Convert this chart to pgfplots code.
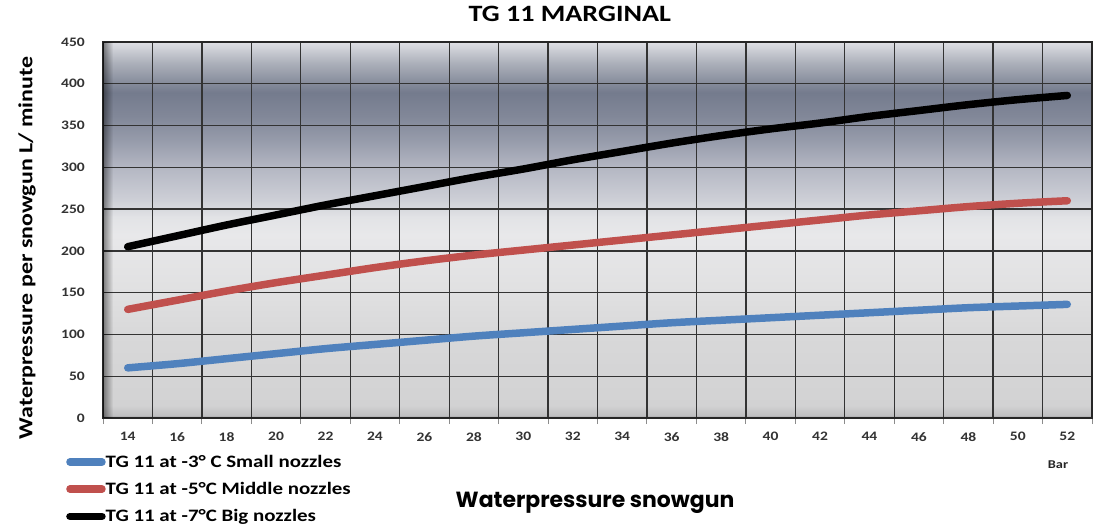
\documentclass[border=0pt]{standalone}
\usepackage{pgfplots}
\pgfplotsset{compat=1.18}
\usepackage{fontspec}
\setmainfont{Carlito}[FakeStretch=1.2]
\newfontfamily\xlabfont{Poppins}
\usetikzlibrary{fadings}
\definecolor{sblue}{RGB}{79,129,189}
\definecolor{sred}{RGB}{192,80,77}
\definecolor{g00}{RGB}{160,160,162}
\definecolor{g01}{RGB}{192,192,194}
\definecolor{g02}{RGB}{210,210,211}
\definecolor{g03}{RGB}{216,216,217}
\definecolor{g04}{RGB}{224,224,225}
\definecolor{g05}{RGB}{232,232,234}
\definecolor{g06}{RGB}{226,227,230}
\definecolor{g07}{RGB}{206,208,215}
\definecolor{g08}{RGB}{180,183,195}
\definecolor{g09}{RGB}{152,157,172}
\definecolor{g10}{RGB}{130,136,153}
\definecolor{g11}{RGB}{116,123,141}
\definecolor{g12}{RGB}{172,176,186}
\definecolor{g13}{RGB}{222,223,228}
\pgfdeclareverticalshading{chartbg}{100bp}{%
color(0bp)=(g00);
color(25bp)=(g00);
color(25.4bp)=(g01);
color(26.7bp)=(g02);
color(36.1bp)=(g03);
color(41.7bp)=(g04);
color(49.4bp)=(g05);
color(51.7bp)=(g06);
color(53.9bp)=(g07);
color(58.3bp)=(g08);
color(61.7bp)=(g09);
color(65bp)=(g10);
color(68.3bp)=(g11);
color(72.2bp)=(g12);
color(75bp)=(g13);
color(100bp)=(g13)}
\tikzfading[name=fadeR, left color=transparent!0, right color=transparent!100]
\pgfplotstableread{
x p blue red black
0 14 60 130 205
1 16 65 141 218
2 18 71 152 231
3 20 77 162 243
4 22 83 171 255
5 24 88 180 266
6 26 93 188 277
7 28 98 195 288
8 30 102 201 298
9 32 106 207 309
10 34 110 213 319
11 36 114 219 329
12 38 117 225 338
13 40 120 231 346
14 42 123 237 353
15 44 126 243 361
16 46 129 248 368
17 48 132 253 375
18 50 134 257 381
19 52 136 260 386
}\datatable
\begin{document}
\begin{tikzpicture}
\path[use as bounding box] (0,0) rectangle (1096bp,526bp);
\begin{axis}[
  at={(103bp,108bp)}, anchor=south west,
  scale only axis, width=989bp, height=376bp,
  xmin=-0.5, xmax=19.5, ymin=0, ymax=450,
  xtick={0,...,19},
  xticklabels={14,16,18,20,22,24,26,28,30,32,34,36,38,40,42,44,46,48,50,52},
  minor xtick={-0.5,0.5,...,19.5},
  ytick={0,50,...,450},
  xminorgrids=true, ymajorgrids=true,
  minor grid style={draw=black!80, line width=1.3bp},
  major grid style={draw=black!80, line width=1.3bp},
  major tick length=0pt, minor tick length=6bp,
  tick align=outside, tick pos=left,
  minor tick style={draw=black!45, line width=1bp},
  axis line style={draw=black!85, line width=1.5bp},
  axis background/.style={shading=chartbg},
  /pgf/number format/assume math mode=true,
  tick label style={font=\bfseries\fontsize{13}{13}\selectfont, text=black!80},
  yticklabel style={inner sep=0pt, xshift=-18bp},
  xticklabel style={inner sep=0pt, yshift=-14bp},
  title={\bfseries TG 11 MARGINAL},
  title style={at={(axis description cs:0.472,1.0585)}, anchor=center, font=\fontsize{23.5}{23.5}\selectfont, inner sep=0pt},
  ylabel={\bfseries Waterpressure per snowgun L/ minute},
  ylabel style={at={(axis description cs:-0.0768,0.452)}, anchor=center, font=\fontsize{20}{20}\selectfont, inner sep=0pt},
  xlabel={\xlabfont\bfseries Waterpressure snowgun},
  xlabel style={at={(axis description cs:0.4975,-0.226)}, anchor=center, font=\fontsize{22}{22}\selectfont, inner sep=0pt},
  legend cell align=left,
  legend style={at={(axis description cs:-0.0374,-0.098)}, anchor=north west, draw=none, fill=none,
    inner sep=0pt, row sep=13.5bp, font=\bfseries\fontsize{17.5}{17.5}\selectfont,
    nodes={inner sep=0pt, anchor=west}},
  legend image code/.code={\draw[#1, line cap=round] (4bp,0bp) -- (36bp,0bp);},
  every axis plot/.append style={line width=7.5bp, line cap=round, line join=round, smooth, tension=0.5},
  clip=false,
]
\fill[black, path fading=fadeR, opacity=0.45] (rel axis cs:0,0) rectangle ([xshift=10bp]rel axis cs:0,1);
\draw[black!85, line width=2bp] (rel axis cs:1,0) -- (rel axis cs:1,1);
\addplot[sblue] table[x=x, y=blue] {\datatable};
\addplot[sred] table[x=x, y=red] {\datatable};
\addplot[black] table[x=x, y=black] {\datatable};
\legend{TG 11 at -3° C Small nozzles, TG 11 at -5°C Middle nozzles, TG 11 at -7°C Big nozzles}
\node[font=\bfseries\fontsize{12}{12}\selectfont, text=black!85] at (axis description cs:0.9656,-0.125) {Bar};
\end{axis}
\end{tikzpicture}
\end{document}
